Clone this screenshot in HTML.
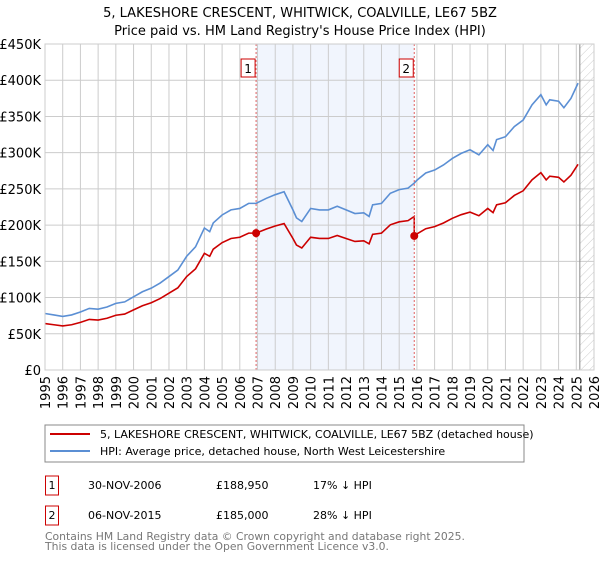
<!DOCTYPE html>
<html><head><meta charset="utf-8"><style>
body{margin:0;background:#fff;font-family:"Liberation Sans","DejaVu Sans",sans-serif;}
svg text{font-family:"DejaVu Sans","Liberation Sans",sans-serif;}
</style></head><body>
<svg id="c" width="600" height="560" xmlns="http://www.w3.org/2000/svg">
<defs><pattern id="hatch" width="6" height="6" patternUnits="userSpaceOnUse" patternTransform="rotate(45)"><line x1="0" y1="0" x2="0" y2="6" stroke="#ccc" stroke-width="1"/></pattern></defs>
<text x="300" y="17" text-anchor="middle" font-size="13" fill="#000">5, LAKESHORE CRESCENT, WHITWICK, COALVILLE, LE67 5BZ</text>
<text x="300" y="35" text-anchor="middle" font-size="13" fill="#000">Price paid vs. HM Land Registry's House Price Index (HPI)</text>
<g id="plot"></g>
<rect x="45" y="425" width="479" height="37" fill="#fff" stroke="#888"/>
<line x1="50" y1="434" x2="90" y2="434" stroke="#cc0000" stroke-width="2"/>
<text x="100" y="438" font-size="11">5, LAKESHORE CRESCENT, WHITWICK, COALVILLE, LE67 5BZ (detached house)</text>
<line x1="50" y1="451" x2="90" y2="451" stroke="#5b8fd4" stroke-width="2"/>
<text x="100" y="455" font-size="11">HPI: Average price, detached house, North West Leicestershire</text>
<g>
<rect x="45.5" y="476" width="13" height="19" fill="#fff" stroke="#cc0000"/><text x="52" y="489" font-size="11" text-anchor="middle">1</text>
<text x="88" y="489" font-size="11">30-NOV-2006</text><text x="216" y="489" font-size="11">£188,950</text><text x="313" y="489" font-size="11">17% ↓ HPI</text></g>
<g>
<rect x="45.5" y="506" width="13" height="19" fill="#fff" stroke="#cc0000"/><text x="52" y="519" font-size="11" text-anchor="middle">2</text>
<text x="88" y="519" font-size="11">06-NOV-2015</text><text x="216" y="519" font-size="11">£185,000</text><text x="313" y="519" font-size="11">28% ↓ HPI</text></g>
<text x="45" y="540" font-size="10.8" fill="#777">Contains HM Land Registry data © Crown copyright and database right 2025.</text>
<text x="45" y="550" font-size="10.8" fill="#777">This data is licensed under the Open Government Licence v3.0.</text>
</svg>
<script>
const hpiYears=[1995,1995.5,1996,1996.5,1997,1997.5,1998,1998.5,1999,1999.5,2000,2000.5,2001,2001.5,2002,2002.5,2003,2003.5,2004,2004.3,2004.5,2005,2005.5,2006,2006.5,2006.92,2007.5,2008,2008.5,2009,2009.2,2009.5,2010,2010.5,2011,2011.5,2012,2012.5,2013,2013.3,2013.5,2014,2014.5,2015,2015.5,2015.85,2016,2016.5,2017,2017.5,2018,2018.5,2019,2019.5,2020,2020.3,2020.5,2021,2021.5,2022,2022.5,2023,2023.3,2023.5,2024,2024.3,2024.7,2025.1];
const hpiValues=[78,76,74,76,80,85,84,87,92,94,101,108,113,120,129,138,157,170,196,191,203,214,221,223,230,230,237,242,246,221,210,205,223,221,221,226,221,216,217,212,228,230,244,249,251,258,262,272,276,283,292,299,304,297,311,303,318,322,336,345,366,380,366,373,371,362,375,396];
const saleYears=[2006.92,2015.85];
const salePrices=[188.95,185];
const saleLabels=["1","2"];
const yTicks=[0,50,100,150,200,250,300,350,400,450];
const yTickLabels=["£0","£50K","£100K","£150K","£200K","£250K","£300K","£350K","£400K","£450K"];
const xTicks=[1995,1996,1997,1998,1999,2000,2001,2002,2003,2004,2005,2006,2007,2008,2009,2010,2011,2012,2013,2014,2015,2016,2017,2018,2019,2020,2021,2022,2023,2024,2025,2026];

const L=45,R=594,T=44,B=370,NS="http://www.w3.org/2000/svg";
const xs=y=>L+(y-1995)/(2026-1995)*(R-L);
const ys=v=>B-v/450*(B-T);
const g=document.getElementById('plot');
function mk(t,a){const e=document.createElementNS(NS,t);for(const k in a)e.setAttribute(k,a[k]);g.appendChild(e);return e;}
let e;
e=mk('rect',{x:xs(saleYears[0]),y:T,width:xs(saleYears[1])-xs(saleYears[0]),height:B-T,fill:'#eef3fc',opacity:0.8});


e=mk('rect',{x:xs(2025.2),y:T,width:R-xs(2025.2),height:B-T,fill:'url(#hatch)'});


yTicks.forEach((v,i)=>{
 e=mk('line',{x1:L,x2:R,y1:ys(v),y2:ys(v),stroke:'#ccc'});
 
 
 e=mk('text',{x:L-4,y:ys(v)+5,'text-anchor':'end','font-size':13});
 e.textContent=yTickLabels[i];
 
 
});
xTicks.forEach(y=>{
 e=mk('line',{x1:xs(y),x2:xs(y),y1:T,y2:B,stroke:'#ccc'});
 
 
 e=mk('text',{x:0,y:0,'font-size':13,'text-anchor':'end',transform:`translate(${xs(y)+5},${B+6}) rotate(-90)`});
 e.textContent=y;
 
 
});
e=mk('line',{x1:xs(2025.2),x2:xs(2025.2),y1:T,y2:B,stroke:'#888'});


function hpiAt(y){for(let i=1;i<hpiYears.length;i++){if(y<=hpiYears[i]){const t=(y-hpiYears[i-1])/(hpiYears[i]-hpiYears[i-1]);return hpiValues[i-1]+t*(hpiValues[i]-hpiValues[i-1]);}}return hpiValues[hpiValues.length-1];}
const r1=salePrices[0]/hpiAt(saleYears[0]),r2=salePrices[1]/hpiAt(saleYears[1]);
let redPts=[];
hpiYears.forEach((y,i)=>{
 if(y<saleYears[1]) redPts.push([y,hpiValues[i]*r1]);
 if(y===saleYears[1]){redPts.push([y,hpiValues[i]*r1]);redPts.push([y,hpiValues[i]*r2]);}
 else if(y>saleYears[1]) redPts.push([y,hpiValues[i]*r2]);
});
e=mk('polyline',{points:hpiYears.map((y,i)=>xs(y)+','+ys(hpiValues[i])).join(' '),fill:'none',stroke:'#5b8fd4','stroke-width':1.6});


e=mk('polyline',{points:redPts.map(p=>xs(p[0])+','+ys(p[1])).join(' '),fill:'none',stroke:'#cc0000','stroke-width':1.6});


saleYears.forEach((y,i)=>{
 e=mk('line',{x1:xs(y),x2:xs(y),y1:T,y2:B,stroke:'#e06060','stroke-dasharray':'2,2'});
 
 
 e=mk('circle',{cx:xs(y),cy:ys(salePrices[i]),r:4,fill:'#cc0000'});
 
 
 e=mk('rect',{x:xs(y)-15,y:T+15,width:14,height:18,fill:'#fff',stroke:'#cc0000'});
 
 
 e=mk('text',{x:xs(y)-8,y:T+29,'text-anchor':'middle','font-size':12});
 e.textContent=saleLabels[i];
 
 
});
e=mk('rect',{x:L,y:T,width:R-L,height:B-T,fill:'none',stroke:'#ccc'});


</script>
</body></html>
